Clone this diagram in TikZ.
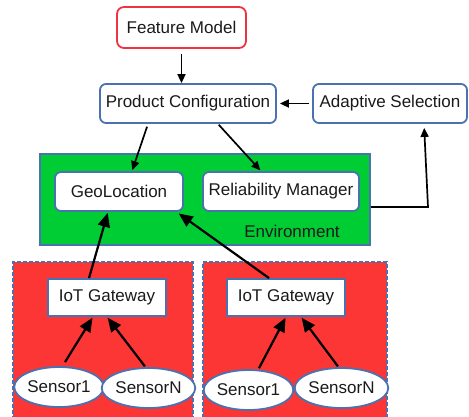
\documentclass[tikz,border=0pt]{standalone}
\usepackage{fontspec}
\setmainfont{Liberation Sans}
\usetikzlibrary{arrows.meta,shapes.geometric}
\definecolor{bordblue}{HTML}{4A72B0}
\definecolor{bordred}{HTML}{EE3344}
\definecolor{envgreen}{HTML}{00CC33}
\definecolor{fillred}{HTML}{FC3535}
\definecolor{txt}{HTML}{1A1A1A}
\tikzset{
  every node/.style={font=\fontsize{17}{19}\selectfont, text=txt},
  rbox/.style={draw=bordblue, line width=1.8pt, rounded corners=6pt, fill=white, inner sep=0pt},
  fmbox/.style={draw=bordred, line width=1.8pt, rounded corners=7pt, fill=white, inner sep=0pt},
  sqbox/.style={draw=bordblue, line width=1.8pt, fill=white, inner sep=0pt},
  sensor/.style={ellipse, draw=bordblue, line width=1.8pt, fill=white, inner sep=0pt, minimum width=76pt, minimum height=40pt},
  envbox/.style={draw=bordblue, line width=1.5pt, fill=envgreen, inner sep=0pt},
  zone/.style={draw=bordblue, line width=1.5pt, dash pattern=on 4pt off 2pt, fill=fillred, inner sep=0pt},
  arr/.style={line width=1.7pt, -{Triangle[length=9pt,width=8pt]}},
  barr/.style={line width=2.2pt, -{Triangle[length=14pt,width=12pt]}},
}
\begin{document}
\begin{tikzpicture}[x=1pt,y=-1pt]
\clip (0,0) rectangle (469,416);
\fill[white] (0,0) rectangle (469,416);
% zones
\node[envbox, minimum width=330pt, minimum height=91pt] (env) at (205,199.5) {};
\node[zone, minimum width=180pt, minimum height=170pt] (zl) at (103,347) {};
\node[zone, minimum width=184pt, minimum height=170pt] (zr) at (295,347) {};
\node[anchor=base] (envlab) at (292,237) {Environment};
% boxes
\node[fmbox, minimum width=129pt, minimum height=41pt] (fm) at (181.5,27.5) {Feature Model};
\node[rbox, minimum width=176pt, minimum height=39pt] (pc) at (188,103.5) {Product Configuration};
\node[rbox, minimum width=154pt, minimum height=39pt] (as) at (390,103.5) {Adaptive Selection};
\node[rbox, minimum width=128pt, minimum height=39pt] (geo) at (119,191.5) {GeoLocation};
\node[rbox, minimum width=156pt, minimum height=39pt] (rm) at (281,191.5) {Reliability Manager};
\node[sqbox, minimum width=118pt, minimum height=37pt] (gwl) at (107,297.5) {IoT Gateway};
\node[sqbox, minimum width=118pt, minimum height=37pt] (gwr) at (286,297.5) {IoT Gateway};
\node[sensor] (s1l) at (59,387) {Sensor1};
\node[sensor] (snl) at (148.5,388) {SensorN};
\node[sensor] (s1r) at (248.5,390) {Sensor1};
\node[sensor] (snr) at (341.5,388) {SensorN};
% connectors
\draw[arr, shorten <=5pt] (fm.south) -- ([xshift=-6.5pt]pc.north);
\draw[arr, shorten <=3pt, shorten >=3pt] (as.west) -- (pc.east);
\draw[arr, shorten <=3pt, shorten >=1pt] ([xshift=-40pt]pc.south) -- ([xshift=13pt]geo.north);
\draw[arr, shorten <=1pt, shorten >=1pt] ([xshift=30pt]pc.south) -- ([xshift=-20pt]rm.north);
\coordinate (bend) at (428,207);
\draw[arr, shorten >=4pt] ([yshift=-7.5pt]env.east) -- (bend) -- ([xshift=34pt]as.south);
\draw[barr, shorten >=1pt] ([xshift=-18pt]gwl.north) -- ([xshift=-11pt]geo.south);
\draw[barr, shorten >=1pt] ([xshift=-17pt]gwr.north) -- ([xshift=-6pt,yshift=-1pt]geo.south east);
\draw[barr, shorten >=1pt] ([xshift=6pt,yshift=4pt]s1l.north) -- ([xshift=-14pt]gwl.south);
\draw[barr, shorten <=1pt, shorten >=1pt] ([xshift=-3pt]snl.north) -- ([xshift=0pt]gwl.south);
\draw[barr, shorten <=1pt, shorten >=1pt] ([xshift=10pt]s1r.north) -- ([xshift=0pt]gwr.south);
\draw[barr, shorten <=1pt, shorten >=1pt] ([xshift=-3pt]snr.north) -- ([xshift=15pt]gwr.south);
\end{tikzpicture}
\end{document}
